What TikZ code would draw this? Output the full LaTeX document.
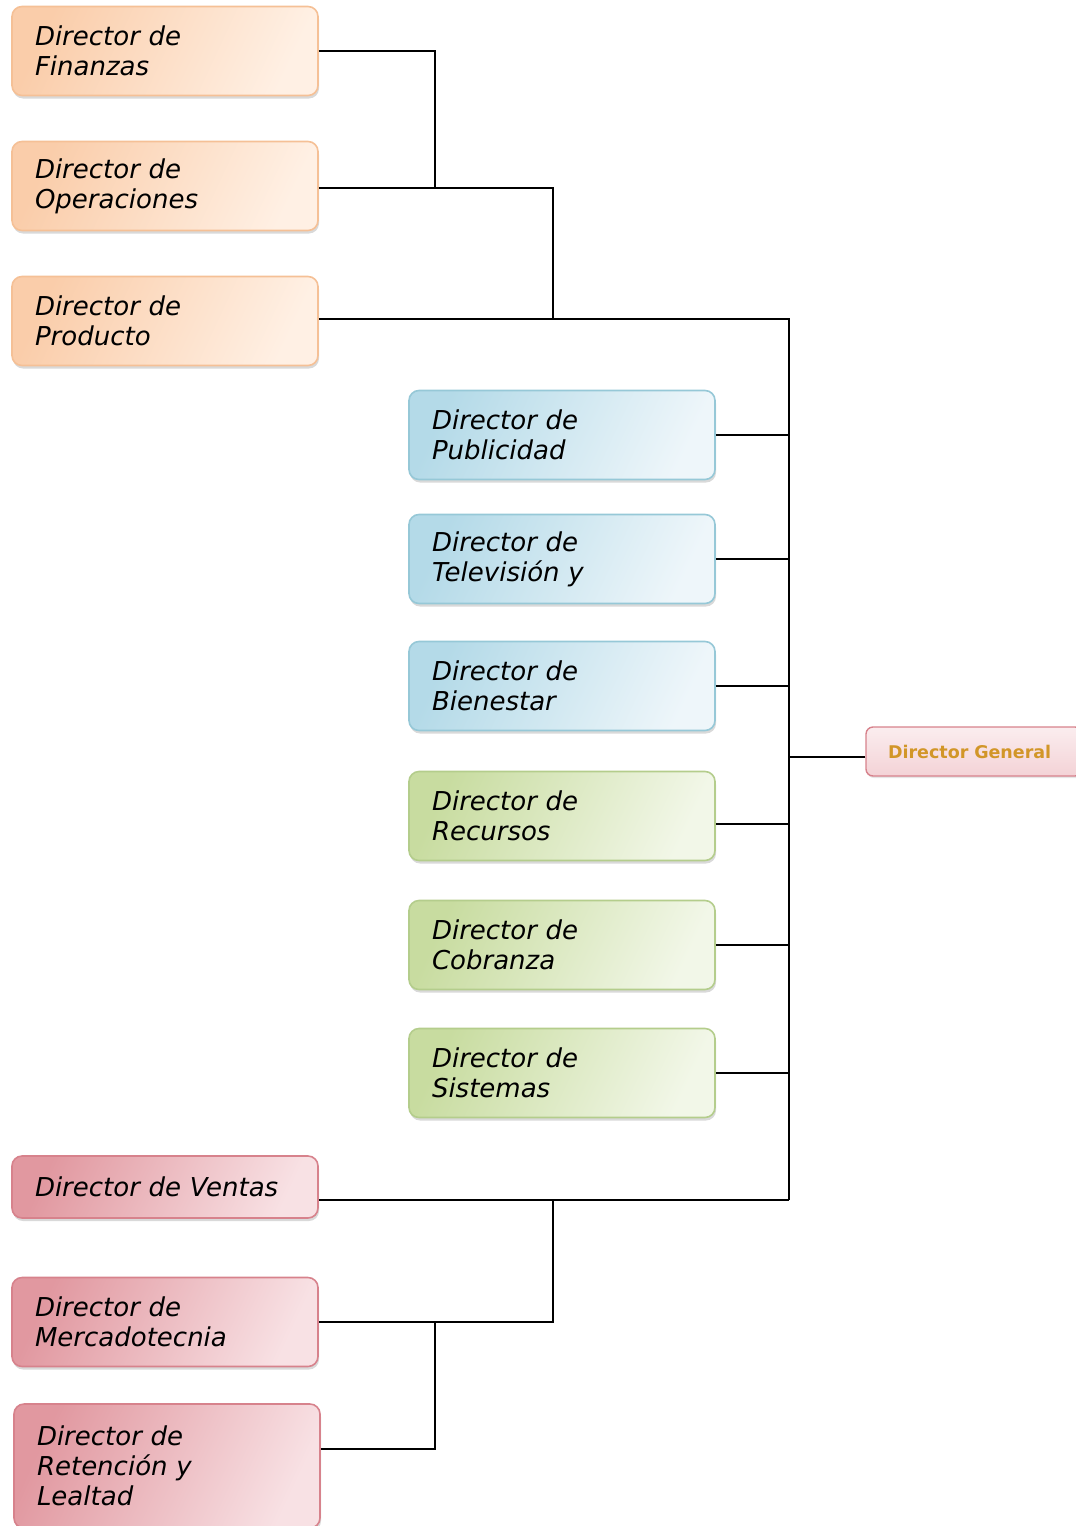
\documentclass[tikz,border=0pt]{standalone}
\usepackage{fontspec}
\setmainfont{DejaVu Sans}
\usetikzlibrary{shadows,calc}

\definecolor{orEdge}{RGB}{245,192,150}
\definecolor{orDark}{RGB}{250,205,170}
\definecolor{orLight}{RGB}{255,240,228}
\definecolor{blEdge}{RGB}{150,200,215}
\definecolor{blDark}{RGB}{180,218,232}
\definecolor{blLight}{RGB}{238,246,250}
\definecolor{grEdge}{RGB}{180,205,140}
\definecolor{grDark}{RGB}{200,220,160}
\definecolor{grLight}{RGB}{242,247,232}
\definecolor{rdEdge}{RGB}{215,130,140}
\definecolor{rdDark}{RGB}{225,152,160}
\definecolor{rdLight}{RGB}{248,225,228}
\definecolor{dgText}{RGB}{210,150,40}

\tikzset{
  dirbox/.style={rounded corners=10pt, line width=1.6pt,
    minimum width=306pt, minimum height=89pt, text width=260pt,
    inner xsep=23pt, align=left,
    font=\fontsize{26}{30}\selectfont\itshape,
    drop shadow={opacity=0.3, shadow xshift=1pt, shadow yshift=-3pt}},
  orbox/.style={dirbox, draw=orEdge, left color=orDark, right color=orLight, shading angle=65},
  blbox/.style={dirbox, draw=blEdge, left color=blDark, right color=blLight, shading angle=65},
  grbox/.style={dirbox, draw=grEdge, left color=grDark, right color=grLight, shading angle=65},
  rdbox/.style={dirbox, draw=rdEdge, left color=rdDark, right color=rdLight, shading angle=65},
  link/.style={line width=1.7pt, draw=black}
}

\begin{document}
\begin{tikzpicture}[x=1pt,y=-1pt]
  \useasboundingbox (0,0) rectangle (1076,1526);

  % left column, upper group
  \node[orbox] (fin)  at (165,51)  {Director de\\Finanzas};
  \node[orbox] (ope)  at (165,186) {Director de\\Operaciones};
  \node[orbox] (pro)  at (165,321) {Director de\\Producto};

  % middle column
  \node[blbox] (pub)  at (562,435)  {Director de\\Publicidad};
  \node[blbox] (tel)  at (562,559)  {Director de\\Televisión y};
  \node[blbox] (bie)  at (562,686)  {Director de\\Bienestar};
  \node[grbox] (rec)  at (562,816)  {Director de\\Recursos};
  \node[grbox] (cob)  at (562,945)  {Director de\\Cobranza};
  \node[grbox] (sis)  at (562,1073) {Director de\\Sistemas};

  % left column, lower group
  \node[rdbox, minimum height=62pt] (ven) at (165,1187) {Director de Ventas};
  \node[rdbox] (mer)  at (165,1322) {Director de\\Mercadotecnia};
  \node[rdbox, minimum height=124pt] (ret) at (167,1466) {Director de\\Retención y\\Lealtad};

  % head of the chart
  \node[rounded corners=7pt, line width=1.4pt, draw=rdEdge,
        top color=rdLight!60!white, bottom color=rdLight!80!rdDark,
        minimum width=216pt, minimum height=49pt, inner xsep=22pt,
        text width=172pt, align=left,
        font=\fontsize{17.5}{20}\selectfont\bfseries, text=dgText,
        drop shadow={opacity=0.2, shadow xshift=1pt, shadow yshift=-2pt}]
        (gen) at (974,751.5) {Director General};

  % junction and tap points
  \coordinate (tOpe) at ([yshift=-2pt]ope.east);
  \coordinate (jFin) at (tOpe -| 435,0);
  \coordinate (jOpe) at (553,319);
  \coordinate (busTop) at (789,319);
  \coordinate (busBot) at (789,1200);
  \coordinate (jVen) at (553,1200);
  \coordinate (jMer) at (435,1322);
  \coordinate (tRec) at ([yshift=-8pt]rec.east);
  \coordinate (tGen) at ([yshift=-5.5pt]gen.west);
  \coordinate (tVen) at ([yshift=-13pt]ven.east);
  \coordinate (tRet) at ([yshift=17pt]ret.east);
  \coordinate (tPro) at ([yshift=2pt]pro.east);

  % upper tree
  \draw[link] (fin.east) -| (jFin);
  \draw[link] (tOpe) -- (jFin) -| (jOpe);
  \draw[link] (tPro) -- (busTop) -- (busBot);

  % middle branches
  \draw[link] (pub.east) -- (pub.east -| busTop);
  \draw[link] (tel.east) -- (tel.east -| busTop);
  \draw[link] (bie.east) -- (bie.east -| busTop);
  \draw[link] (tRec) -- (tRec -| busTop);
  \draw[link] (cob.east) -- (cob.east -| busTop);
  \draw[link] (sis.east) -- (sis.east -| busTop);
  \draw[link] (tGen) -- (tGen -| busTop);

  % lower tree
  \draw[link] (tVen) -- (busBot);
  \draw[link] (jVen) |- (mer.east);
  \draw[link] (jMer) |- (tRet);
\end{tikzpicture}
\end{document}
